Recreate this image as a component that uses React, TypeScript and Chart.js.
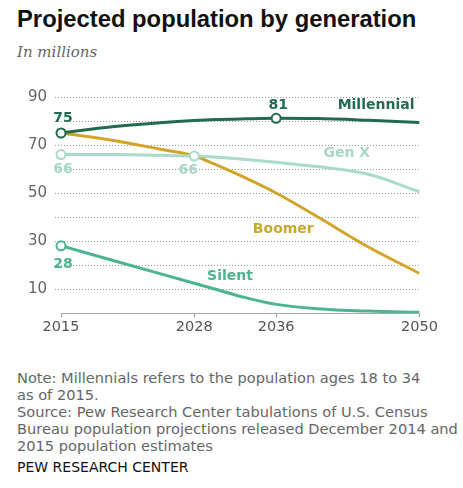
import React, { useEffect, useRef } from "react";
import { Chart, registerables } from "chart.js";

Chart.register(...registerables);

const years = [2015, 2020, 2025, 2028, 2030, 2033, 2036, 2040, 2045, 2050];
const millennial = [75, 77.6, 79.4, 80.2, 80.6, 80.9, 81.1, 81.0, 80.3, 79.4];
const genX = [66, 66, 65.7, 65.4, 65.0, 64.0, 62.8, 61.0, 57.8, 50.5];
const boomer = [75, 72, 68, 65.5, 62, 56.3, 50, 40.2, 27.5, 16.5];
const silent = [28, 22, 16, 12.4, 10, 6.4, 3.6, 1.8, 0.8, 0.3];

const xTicks = [2015, 2028, 2036, 2050];
const yLabelled = [10, 30, 50, 70, 90];

const seriesNames = ["Millennial", "Gen X", "Boomer", "Silent"];
const seriesColors = ["#236b4e", "#a9dacd", "#d2a52a", "#4cb48e"];
const labelColors = ["#236b4e", "#a9d6ca", "#c9a82c", "#4cb48e"];
// markers: [series index, year]
const markerPoints: Array<[number, number]> = [
  [0, 2015],
  [0, 2036],
  [1, 2015],
  [1, 2028],
  [3, 2015],
];
// value labels: [series index, year, text, dx, dy]
const valueLabels: Array<[number, number, string, number, number]> = [
  [0, 2015, "75", 2, -15],
  [0, 2036, "81", 2, -13],
  [1, 2015, "66", 2, 15],
  [1, 2028, "66", -6, 14],
  [3, 2015, "28", 2, 19],
];
// series name labels: [series index, year, value, align]
const nameLabels: Array<[number, number, number, CanvasTextAlign]> = [
  [0, 2049.5, 86.4, "right"],
  [1, 2042.9, 66.6, "center"],
  [2, 2036.7, 35, "center"],
  [3, 2031.5, 15.4, "center"],
];

const allSeries = [millennial, genX, boomer, silent];

const annotate = {
  id: "annotate",
  afterDatasetsDraw(chart: any) {
    const ctx = chart.ctx;
    const xs = chart.scales.x;
    const ys = chart.scales.y;
    ctx.save();
    for (const [si, yr] of markerPoints) {
      const v = allSeries[si][years.indexOf(yr)];
      ctx.beginPath();
      ctx.arc(xs.getPixelForValue(yr), ys.getPixelForValue(v), 4.5, 0, Math.PI * 2);
      ctx.fillStyle = "#ffffff";
      ctx.fill();
      ctx.lineWidth = 2;
      ctx.strokeStyle = seriesColors[si];
      ctx.stroke();
    }
    ctx.font = "bold 14px 'DejaVu Sans', sans-serif";
    ctx.textBaseline = "middle";
    for (const [si, yr, txt, dx, dy] of valueLabels) {
      const v = allSeries[si][years.indexOf(yr)];
      ctx.fillStyle = labelColors[si];
      ctx.textAlign = "center";
      ctx.fillText(txt, xs.getPixelForValue(yr) + dx, ys.getPixelForValue(v) + dy);
    }
    for (const [si, yr, v, align] of nameLabels) {
      ctx.fillStyle = labelColors[si];
      ctx.textAlign = align;
      ctx.fillText(seriesNames[si], xs.getPixelForValue(yr), ys.getPixelForValue(v));
    }
    ctx.restore();
  },
};

function PopChart() {
  const ref = useRef<HTMLCanvasElement>(null);
  useEffect(() => {
    if (!ref.current) return;
    const chart = new Chart(ref.current, {
      type: "line",
      data: {
        datasets: allSeries.map((s, i) => ({
          label: seriesNames[i],
          data: s.map((v, j) => ({ x: years[j], y: v })),
          borderColor: seriesColors[i],
          borderWidth: 3,
          pointRadius: 0,
          cubicInterpolationMode: "monotone" as const,
          fill: false,
        })),
      },
      options: {
        animation: false,
        responsive: false,
        maintainAspectRatio: false,
        layout: { padding: { top: 10, right: 20, left: 0, bottom: 0 } },
        plugins: { legend: { display: false }, tooltip: { enabled: false } },
        scales: {
          x: {
            type: "linear",
            min: 2015,
            max: 2050,
            afterBuildTicks: (scale: any) => {
              scale.ticks = xTicks.map((v) => ({ value: v }));
            },
            afterFit: (scale: any) => {
              scale.height = 27;
            },
            grid: {
              drawOnChartArea: false,
              drawTicks: true,
              tickLength: 4,
              color: "#999",
            },
            border: { color: "#aaa", width: 1 },
            ticks: {
              color: "#555",
              font: { family: "'DejaVu Sans', sans-serif", size: 14.5 },
              padding: 2,
              maxRotation: 0,
              autoSkip: false,
              callback: (v: any) => String(v),
            },
          },
          y: {
            type: "linear",
            min: 0,
            max: 90,
            afterBuildTicks: (scale: any) => {
              const t = [];
              for (let v = 10; v <= 90; v += 10) t.push({ value: v });
              scale.ticks = t;
            },
            afterFit: (scale: any) => {
              scale.width = 61;
            },
            grid: {
              color: "#9a9a9a",
              lineWidth: 1,
              drawTicks: true,
              tickLength: 6,
              tickBorderDash: [1, 2],
            },
            border: { display: false, dash: [1, 2] },
            ticks: {
              color: "#666",
              font: { family: "'DejaVu Sans', sans-serif", size: 15 },
              padding: 8,
              autoSkip: false,
              callback: (v: any) => (yLabelled.includes(Number(v)) ? String(v) : ""),
            },
          },
        },
      },
      plugins: [annotate],
    } as any);
    return () => chart.destroy();
  }, []);
  return <canvas ref={ref} width={440} height={260} style={{ display: "block", width: 440, height: 260 }} />;
}

export default function App() {
  return (
    <div style={{ position: "absolute", left: 0, top: 0, width: 463, height: 488, background: "#fff", overflow: "hidden" }}>
      <div
        style={{
          position: "absolute",
          left: 17,
          top: 5,
          fontFamily: "'Liberation Sans', Arial, sans-serif",
          fontWeight: "bold",
          fontSize: 23.8,
          color: "#111",
          whiteSpace: "nowrap",
        }}
      >
        Projected population by generation
      </div>
      <div
        style={{
          position: "absolute",
          left: 17,
          top: 43,
          fontFamily: "'DejaVu Serif', serif",
          fontStyle: "italic",
          fontSize: 15,
          color: "#666",
          whiteSpace: "nowrap",
        }}
      >
        In millions
      </div>
      <div style={{ position: "absolute", left: 0, top: 80 }}>
        <PopChart />
      </div>
      <div
        style={{
          position: "absolute",
          left: 17,
          top: 369,
          fontFamily: "'DejaVu Sans', sans-serif",
          fontSize: 14.6,
          lineHeight: "17px",
          color: "#666",
          whiteSpace: "nowrap",
        }}
      >
        <div>Note: Millennials refers to the population ages 18 to 34</div>
        <div>as of 2015.</div>
        <div>Source: Pew Research Center tabulations of U.S. Census</div>
        <div>Bureau population projections released December 2014 and</div>
        <div>2015 population estimates</div>
      </div>
      <div
        style={{
          position: "absolute",
          left: 17,
          top: 459,
          fontFamily: "'DejaVu Sans', sans-serif",
          fontSize: 14,
          color: "#111",
          whiteSpace: "nowrap",
        }}
      >
        PEW RESEARCH CENTER
      </div>
    </div>
  );
}
